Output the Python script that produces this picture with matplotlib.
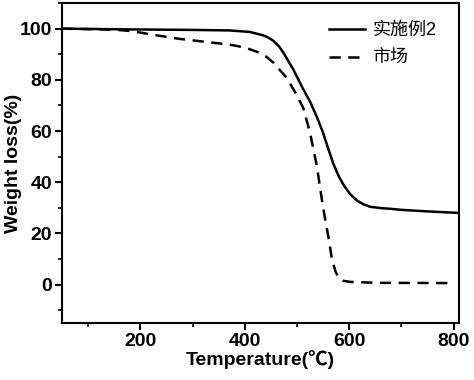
import matplotlib.pyplot as plt
from matplotlib.ticker import MultipleLocator

plt.rcParams['font.family'] = ['Liberation Sans', 'Noto Sans CJK SC', 'DejaVu Sans']

# TGA curves
temp_sample = [50, 180, 300, 371, 410, 435, 445, 455, 465, 474, 493, 512, 525, 538, 550, 560,
               570, 580, 589, 602, 615, 628, 640, 660, 680, 700, 750, 810]
weight_sample = [100, 99.7, 99.5, 99.3, 98.7, 97.4, 96.5, 95.2, 93.2, 90.6, 84, 76.3, 71.5, 65.5,
                 59.3, 53, 47, 42.3, 39, 35.3, 32.8, 31.3, 30.4, 29.9, 29.6, 29.2, 28.6, 28]

temp_market = [50, 150, 185, 218, 275, 352, 378, 400, 423, 440, 455, 480, 499, 512,
               525, 538, 550, 560, 567, 574, 580, 588, 602, 653, 794]
weight_market = [100, 99.6, 99, 97.8, 96, 94.2, 93.5, 92.6, 91, 89.2, 86.7, 80.8, 74.3, 69,
                 59.3, 46.3, 30, 18.8, 9.8, 5, 2.6, 1.5, 1.05, 0.7, 0.6]

labels = ['实施例2', '市场']

fig = plt.figure(figsize=(4.74, 3.8), dpi=100)
ax = fig.add_axes([0.131, 0.15, 0.837, 0.842])

ax.plot(temp_sample, weight_sample, color='black', lw=1.8, label=labels[0])
ax.plot(temp_market, weight_market, color='black', lw=1.8, ls=(0, (4.5, 3)), label=labels[1])

ax.set_xlim(50, 810)
ax.set_ylim(-15, 110)
ax.xaxis.set_major_locator(MultipleLocator(200))
ax.xaxis.set_minor_locator(MultipleLocator(100))
ax.yaxis.set_major_locator(MultipleLocator(20))
ax.yaxis.set_minor_locator(MultipleLocator(10))
ax.tick_params(which='major', direction='out', length=5, width=1.5, labelsize=14, pad=2)
ax.tick_params(which='minor', direction='out', length=3, width=1.2)
for lab in ax.get_xticklabels() + ax.get_yticklabels():
    lab.set_fontweight('bold')
for sp in ax.spines.values():
    sp.set_linewidth(1.5)

ax.set_xlabel('Temperature(℃)', fontsize=14, fontweight='bold', labelpad=0)
ax.set_ylabel('Weight loss(%)', fontsize=14, fontweight='bold')
ax.yaxis.set_label_coords(-0.1, 0.5)

ax.legend(loc='upper right', frameon=False, fontsize=13, handlelength=2.0,
          handletextpad=0.4, borderaxespad=0.3, labelspacing=0.6,
          bbox_to_anchor=(0.975, 0.98))

fig.savefig('out.png', dpi=100)
